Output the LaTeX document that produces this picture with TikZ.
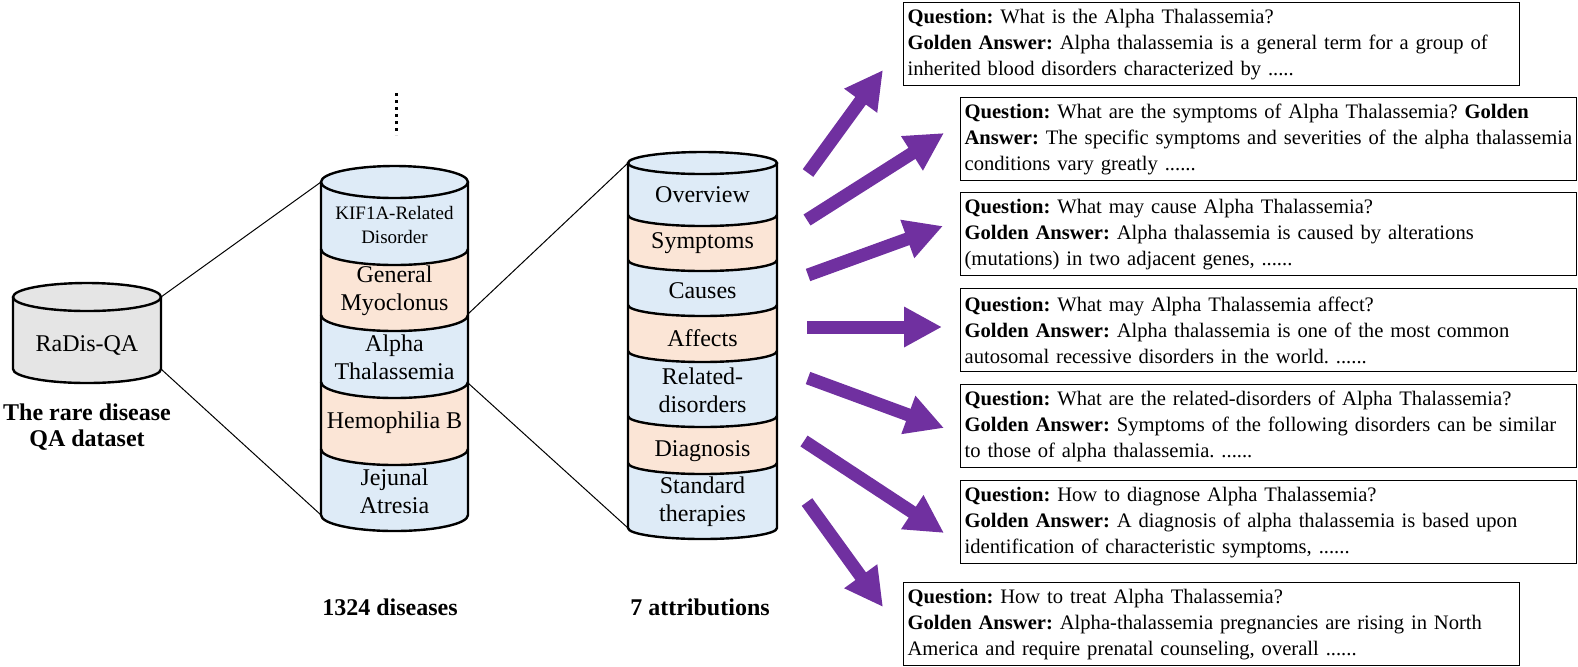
\documentclass[tikz,border=0pt]{standalone}
\usepackage{fontspec}
\setmainfont{Liberation Serif}
\usetikzlibrary{arrows.meta}
\definecolor{segblue}{RGB}{222,235,247}
\definecolor{segorange}{RGB}{251,229,214}
\definecolor{dbgray}{RGB}{229,229,229}
\definecolor{arrowpurple}{RGB}{112,48,160}
\tikzset{
	cylline/.style={line width=1.2pt},
	link/.style={line width=0.5pt},
	seglabel/.style={align=center,font=\fontsize{12}{14}\selectfont},
	caption/.style={align=center,font=\bfseries\fontsize{12}{13}\selectfont},
	qabox/.style={draw,line width=0.6pt,anchor=north west,align=left,text width=304pt,inner xsep=2pt,inner ysep=0pt,minimum height=41.5pt,font=\fontsize{10.3}{13}\selectfont\frenchspacing},
	qarrow/.style={arrowpurple,line width=6.5pt,-{Triangle[length=19pt,width=19pt]}}
}
\begin{document}
\begin{tikzpicture}[x=0.5pt,y=-0.5pt]
	\useasboundingbox (0,0) rectangle (1578,666);

	\coordinate (qa-ne) at (161,297);
	\coordinate (qa-se) at (161,369);
	\coordinate (dis-nw) at (321,182);
	\coordinate (dis-sw) at (321,515);
	\coordinate (dis-e1) at (468,314);
	\coordinate (dis-e2) at (468,383);
	\coordinate (att-nw) at (628,163);
	\coordinate (att-sw) at (628,528);
	\draw[link] (qa-ne) -- (dis-nw);
	\draw[link] (qa-se) -- (dis-sw);
	\draw[link] (dis-e1) -- (att-nw);
	\draw[link] (dis-e2) -- (att-sw);

	% dataset
	\fill[dbgray] (13,297) -- (13,369) arc[start angle=180,end angle=0,x radius=74,y radius=14] -- (161,297) -- cycle;
	\draw[cylline] (13,297) -- (13,369) arc[start angle=180,end angle=0,x radius=74,y radius=14] -- (161,297);
	\filldraw[fill=dbgray,cylline] (87,297) ellipse [x radius=74,y radius=14];
	\node[seglabel] (radis) at (87,345) {RaDis-QA};
	\node[caption] (radis-cap) at (87,427) {The rare disease\\QA dataset};

	% diseases
	\foreach \ya/\yb/\col in {182/249/segblue,249/315/segorange,315/382/segblue,382/449/segorange,449/515/segblue}
		\fill[\col] (321,\ya) arc[start angle=180,end angle=0,x radius=73.5,y radius=16] -- (468,\yb) arc[start angle=0,end angle=180,x radius=73.5,y radius=16] -- cycle;
	\foreach \y in {249,315,382,449}
		\draw[cylline] (321,\y) arc[start angle=180,end angle=0,x radius=73.5,y radius=16];
	\draw[cylline] (321,182) -- (321,515) arc[start angle=180,end angle=0,x radius=73.5,y radius=16] -- (468,182);
	\filldraw[fill=segblue,cylline] (394.5,182) ellipse [x radius=73.5,y radius=16];
	\node[seglabel,font=\fontsize{9.5}{12}\selectfont] (kif) at (394.5,225) {KIF1A-Related\\Disorder};
	\node[seglabel] (myo) at (394.5,291) {General\\Myoclonus};
	\node[seglabel] (alpha) at (394.5,357) {Alpha\\Thalassemia};
	\node[seglabel] (hemo) at (394.5,423) {Hemophilia B};
	\node[seglabel] (jeju) at (394.5,491) {Jejunal\\Atresia};
	\coordinate (dots-top) at (396,93);
	\coordinate (dots-bot) at (396,135);
	\draw[line width=1.5pt,dash pattern=on 1.5pt off 2pt] (dots-top) -- (dots-bot);
	\node[caption] (dis-cap) at (390,607) {1324 diseases};

	% attributions
	\foreach \ya/\yb/\col in {163/215/segblue,215/260/segorange,260/305/segblue,305/351/segorange,351/416/segblue,416/463/segorange,463/528/segblue}
		\fill[\col] (628,\ya) arc[start angle=180,end angle=0,x radius=74.5,y radius=11] -- (777,\yb) arc[start angle=0,end angle=180,x radius=74.5,y radius=11] -- cycle;
	\foreach \y in {215,260,305,351,416,463}
		\draw[cylline] (628,\y) arc[start angle=180,end angle=0,x radius=74.5,y radius=11];
	\draw[cylline] (628,163) -- (628,528) arc[start angle=180,end angle=0,x radius=74.5,y radius=11] -- (777,163);
	\filldraw[fill=segblue,cylline] (702.5,163) ellipse [x radius=74.5,y radius=11];
	\node[seglabel] (over) at (702.5,195) {Overview};
	\node[seglabel] (symp) at (702.5,243) {Symptoms};
	\node[seglabel] (caus) at (702.5,291) {Causes};
	\node[seglabel] (affe) at (702.5,338) {Affects};
	\node[seglabel] (rela) at (702.5,390) {Related-\\disorders};
	\node[seglabel] (diag) at (702.5,451) {Diagnosis};
	\node[seglabel] (stan) at (702.5,502) {Standard\\therapies};
	\node[caption] (att-cap) at (700,607) {7 attributions};

	% question boxes
	\node[qabox] (q1) at (903,2) {\textbf{Question:} What is the Alpha Thalassemia?\\\textbf{Golden Answer:} Alpha thalassemia is a general term for a group of\\inherited blood disorders characterized by .....};
	\node[qabox] (q2) at (960,97) {\textbf{Question:} What are the symptoms of Alpha Thalassemia? \textbf{Golden}\\\textbf{Answer:} The specific symptoms and severities of the alpha thalassemia\\conditions vary greatly ......};
	\node[qabox] (q3) at (960,192) {\textbf{Question:} What may cause Alpha Thalassemia?\\\textbf{Golden Answer:} Alpha thalassemia is caused by alterations\\(mutations) in two adjacent genes, ......};
	\node[qabox] (q4) at (960,288) {\textbf{Question:} What may Alpha Thalassemia affect?\\\textbf{Golden Answer:} Alpha thalassemia is one of the most common\\autosomal recessive disorders in the world. ......};
	\node[qabox] (q5) at (960,384) {\textbf{Question:} What are the related-disorders of Alpha Thalassemia?\\\textbf{Golden Answer:} Symptoms of the following disorders can be similar\\to those of alpha thalassemia. ......};
	\node[qabox] (q6) at (960,480) {\textbf{Question:} How to diagnose Alpha Thalassemia?\\\textbf{Golden Answer:} A diagnosis of alpha thalassemia is based upon\\identification of characteristic symptoms, ......};
	\node[qabox] (q7) at (903,582) {\textbf{Question:} How to treat Alpha Thalassemia?\\\textbf{Golden Answer:} Alpha-thalassemia pregnancies are rising in North\\America and require prenatal counseling, overall ......};

	% arrows
	\coordinate (t1) at (808,173); \coordinate (h1) at (883,70);
	\coordinate (t2) at (807,220); \coordinate (h2) at (944,133);
	\coordinate (t3) at (808,275); \coordinate (h3) at (943,226);
	\coordinate (t4) at (807,327); \coordinate (h4) at (942,327);
	\coordinate (t5) at (808,378); \coordinate (h5) at (944,428);
	\coordinate (t6) at (804,441); \coordinate (h6) at (944,533);
	\coordinate (t7) at (807,502); \coordinate (h7) at (883,607);
	\foreach \i in {1,...,7}
		\draw[qarrow] (t\i) -- (h\i);
\end{tikzpicture}
\end{document}
